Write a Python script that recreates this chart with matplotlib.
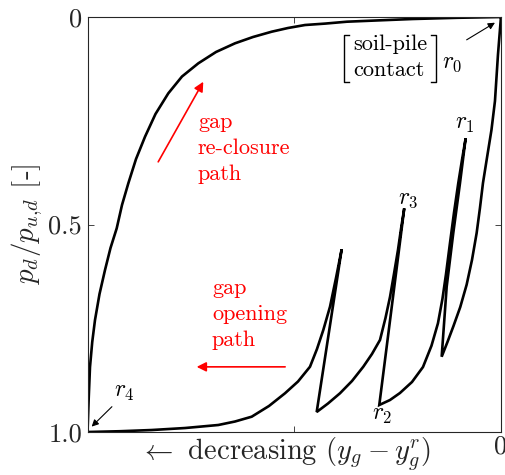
import numpy as np
import matplotlib
matplotlib.use('Agg')
import matplotlib.pyplot as plt
from matplotlib.lines import Line2D

plt.rcParams['font.family'] = 'serif'
plt.rcParams['font.serif'] = ['cmr10']
plt.rcParams['mathtext.fontset'] = 'cm'
plt.rcParams['axes.unicode_minus'] = False

# ── Normalised p-y branches (x: y_g - y_g^r, y: p_d/p_u,d) ─────────
# r0 -> first opening
open_0_x = [0.0, -0.0073, -0.0145, -0.0230, -0.0339, -0.0435, -0.0508, -0.0588,
            -0.0701, -0.0830, -0.0985, -0.1150, -0.1294, -0.1434]
open_0_y = [0.0, 0.0916, 0.2024, 0.2723, 0.3398, 0.4000, 0.4602, 0.5205,
            0.5855, 0.6450, 0.6990, 0.7450, 0.7831, 0.8186]
# re-closure up to r1
close_1_x = [-0.1434, -0.1313, -0.1154, -0.0992, -0.0854]
close_1_y = [0.8186, 0.650, 0.521, 0.401, 0.2923]
# r1 -> r2
open_1_x = [-0.0854, -0.0943, -0.1033, -0.1137, -0.1233, -0.1330, -0.1415,
            -0.1524, -0.1680, -0.1886, -0.2152, -0.2443, -0.2684, -0.2943]
open_1_y = [0.2923, 0.3446, 0.4007, 0.4723, 0.5446, 0.6200, 0.6790,
            0.7380, 0.7920, 0.8434, 0.8795, 0.9060, 0.9229, 0.9349]
# r2 -> r3
close_2_x = [-0.2943, -0.2339]
close_2_y = [0.9349, 0.4610]
# r3 -> next reversal
open_2_x = [-0.2339, -0.2418, -0.2491, -0.2588, -0.2684, -0.2793, -0.2926,
            -0.3120, -0.3330, -0.3603, -0.3894, -0.4184, -0.4457]
open_2_y = [0.4610, 0.5108, 0.5614, 0.6193, 0.6747, 0.7253, 0.7783,
            0.8120, 0.8427, 0.8771, 0.9067, 0.9313, 0.9518]
# short re-closure
close_3_x = [-0.4457, -0.3853]
close_3_y = [0.9518, 0.5598]
# long opening down to r4
open_3_x = [-0.3853, -0.3990, -0.4135, -0.4297, -0.4450, -0.4619, -0.4909, -0.5224,
            -0.5611, -0.6029, -0.6433, -0.6837, -0.7642, -0.8447, -0.9214, -1.0]
open_3_y = [0.5598, 0.6289, 0.6981, 0.7542, 0.8000, 0.8427, 0.8783, 0.9067,
            0.9373, 0.9631, 0.9747, 0.9831, 0.9904, 0.9952, 0.9981, 1.0]
# full re-closure r4 -> r0
close_4_x = [-1.0, -0.9973, -0.9940, -0.9886, -0.9819, -0.9710, -0.9577, -0.9444,
             -0.9294, -0.9166, -0.9013, -0.8827, -0.8609, -0.8356, -0.8046, -0.7715,
             -0.7320, -0.6892, -0.6433, -0.5998, -0.5545, -0.5151, -0.4740, -0.4256,
             -0.3724, -0.2926, -0.2128, -0.1064, 0.0]
close_4_y = [1.0, 0.9229, 0.8434, 0.7831, 0.7301, 0.6675, 0.6096, 0.5566,
             0.5092, 0.4530, 0.4007, 0.3422, 0.2884, 0.2337, 0.1839, 0.1434,
             0.1116, 0.0843, 0.0634, 0.0482, 0.0354, 0.0265, 0.0193, 0.0159,
             0.0113, 0.0080, 0.0048, 0.0019, 0.0]

path_x = (open_0_x + close_1_x[1:] + open_1_x[1:] + close_2_x[1:] + open_2_x[1:]
          + close_3_x[1:] + open_3_x[1:] + close_4_x[1:])
path_y = (open_0_y + close_1_y[1:] + open_1_y[1:] + close_2_y[1:] + open_2_y[1:]
          + close_3_y[1:] + open_3_y[1:] + close_4_y[1:])

y_ticks = [0, 0.5, 1.0]
y_ticklabels = ['0', '0.5', '1.0']
x_ticks = [-1.0, -0.5, 0.0]
x_ticklabels = ['', '', '0']

fig = plt.figure(figsize=(5.05, 4.75), dpi=100)
ax = fig.add_axes([0.1733, 0.0905, 0.8187, 0.8737])

ax.plot(path_x, path_y, color='black', lw=1.9, solid_joinstyle='miter')

ax.set_xlim(-1.0, 0.0)
ax.set_ylim(1.0, 0.0)
ax.set_yticks(y_ticks)
ax.set_yticklabels(y_ticklabels)
ax.set_xticks(x_ticks)
ax.set_xticklabels(x_ticklabels)
ax.tick_params(direction='in', length=4, width=0.6, top=True, right=True,
               labelsize=19, colors='#262626', pad=4)
ax.tick_params(axis='x', pad=2)
for s in ax.spines.values():
    s.set_linewidth(0.8)
    s.set_color('#262626')

ax.set_xlabel(r'$\leftarrow$ decreasing $(y_g-y_g^r)$', fontsize=20.5, color='#262626')
ax.xaxis.set_label_coords(0.478, -0.010)
ax.set_ylabel(r'$p_d/p_{u{,}d}$ [-]', fontsize=21, color='#262626', labelpad=2)

# reversal point labels
lab_kw = dict(fontsize=17, ha='center', va='center')
ax.text(-0.118, 0.111, r'$r_0$', **lab_kw)
ax.text(-0.087, 0.258, r'$r_1$', **lab_kw)
ax.text(-0.288, 0.959, r'$r_2$', **lab_kw)
ax.text(-0.225, 0.439, r'$r_3$', **lab_kw)
ax.text(-0.912, 0.904, r'$r_4$', **lab_kw)

arr_k = dict(arrowstyle='-|>', color='black', lw=0.8, mutation_scale=10, shrinkA=0, shrinkB=0)
ax.annotate('', xy=(-0.0145, 0.0137), xytext=(-0.083, 0.055), arrowprops=arr_k)
ax.annotate('', xy=(-0.990, 0.987), xytext=(-0.941, 0.939), arrowprops=arr_k)

# bracketed note next to r0
ax.text(-0.268, 0.065, 'soil-pile', fontsize=16, ha='center', va='center')
ax.text(-0.271, 0.128, 'contact', fontsize=16, ha='center', va='center')
for bx, d in [(-0.380, 1), (-0.157, -1)]:
    ax.add_line(Line2D([bx + d * 0.012, bx, bx, bx + d * 0.012], [0.043, 0.043, 0.156, 0.156],
                       color='black', lw=1.0))

# red direction arrows
red_kw = dict(fontsize=16, color='red', ha='left', va='center', linespacing=1.4)
ax.text(-0.733, 0.316, 'gap\nre-closure\npath', **red_kw)
ax.text(-0.699, 0.716, 'gap\nopening\npath', **red_kw)
arr_r = dict(arrowstyle='-|>', color='red', lw=1.2, mutation_scale=14, shrinkA=0, shrinkB=0)
ax.annotate('', xy=(-0.720, 0.156), xytext=(-0.829, 0.349), arrowprops=arr_r)
ax.annotate('', xy=(-0.736, 0.843), xytext=(-0.522, 0.843), arrowprops=arr_r)

fig.savefig('out.png', dpi=100)
